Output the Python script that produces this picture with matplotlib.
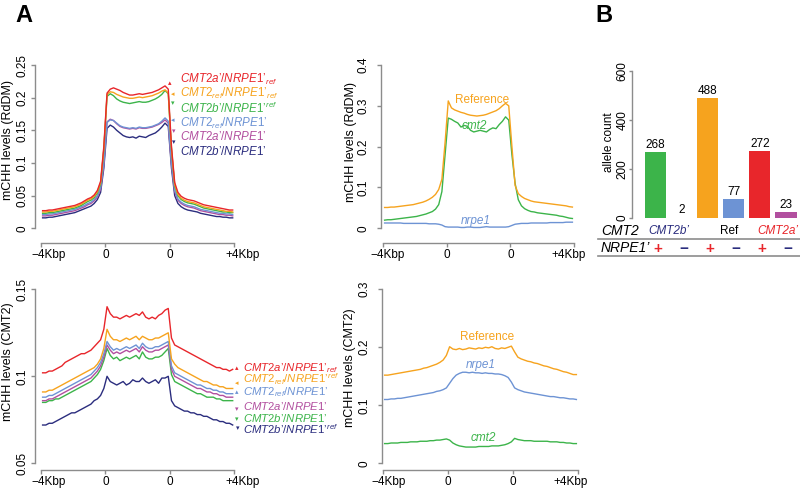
"""
Metaplots of mCHH at RdDM / CMT2 targets and allele counts (panel A + B).
"""
import matplotlib.pyplot as plt
import numpy as np
from matplotlib.lines import Line2D
from matplotlib.transforms import ScaledTranslation

W, H = 800, 488
AXIS_GREY = "#8c8c8c"

RED = "#e8262b"
ORANGE = "#f6a31e"
GREEN = "#3cb44a"
LBLUE = "#6d93d4"
PURPLE = "#b24f9f"
NAVY = "#2b2d7e"

plt.rcParams["font.family"] = ["Liberation Sans", "DejaVu Sans"]
plt.rcParams["mathtext.fontset"] = "custom"
plt.rcParams["mathtext.it"] = "Liberation Sans:italic"
plt.rcParams["mathtext.rm"] = "Liberation Sans"

# ---------------------------------------------------------------- data
# each profile: 20 bins upstream, 20 bins body, 20 bins downstream
BINS_PER_SEGMENT = 20
XTICK_LABELS = ["\u22124Kbp", "0", "0", "+4Kbp"]

RDDM_CMT2A_NRPE1REF = [
    .027, .027, .028, .028, .029, .030, .031, .032, .033, .034, .035, .037, .039, .042, .045, .047, .051, .058, .072, .125,
    .207, .213, .215, .213, .211, .208, .206, .204, .204, .205, .206, .205, .206, .207, .208, .210, .212, .215, .218, .213,
    .125, .070, .055, .049, .046, .044, .043, .042, .040, .038, .036, .035, .034, .033, .032, .031, .030, .029, .028, .028]
RDDM_CMT2REF_NRPE1REF = [
    .025, .025, .026, .026, .027, .028, .029, .030, .031, .032, .033, .035, .037, .040, .043, .045, .049, .056, .070, .122,
    .205, .209, .208, .205, .203, .201, .200, .199, .199, .200, .201, .200, .201, .202, .203, .205, .207, .210, .212, .207,
    .122, .067, .052, .046, .043, .041, .040, .039, .037, .035, .033, .032, .031, .030, .029, .028, .027, .026, .026, .025]
RDDM_CMT2B_NRPE1REF = [
    .023, .023, .024, .024, .025, .026, .027, .028, .029, .030, .031, .033, .035, .038, .041, .043, .047, .054, .068, .120,
    .202, .206, .203, .198, .195, .193, .192, .191, .192, .193, .194, .193, .193, .194, .196, .198, .201, .205, .211, .206,
    .120, .065, .050, .044, .041, .039, .038, .037, .035, .033, .031, .030, .029, .028, .027, .026, .025, .025, .024, .024]
RDDM_CMT2REF_NRPE1 = [
    .021, .021, .022, .022, .023, .024, .025, .026, .027, .028, .029, .031, .033, .035, .038, .040, .044, .050, .062, .100,
    .162, .166, .165, .161, .157, .155, .154, .153, .154, .153, .155, .154, .154, .155, .156, .158, .160, .164, .169, .164,
    .100, .058, .045, .040, .037, .035, .034, .033, .031, .029, .028, .027, .026, .025, .024, .023, .023, .022, .022, .021]
RDDM_CMT2A_NRPE1 = [
    .019, .019, .020, .020, .021, .022, .023, .024, .025, .026, .027, .029, .031, .033, .036, .038, .042, .048, .060, .098,
    .163, .167, .165, .160, .156, .154, .153, .152, .153, .152, .154, .153, .153, .154, .155, .157, .159, .162, .166, .161,
    .098, .056, .043, .038, .035, .033, .032, .031, .029, .027, .026, .025, .024, .023, .022, .021, .021, .020, .020, .019]
RDDM_CMT2B_NRPE1 = [
    .016, .016, .017, .017, .018, .019, .020, .021, .022, .023, .024, .026, .028, .030, .032, .034, .038, .044, .055, .092,
    .153, .158, .155, .150, .146, .142, .140, .139, .140, .138, .141, .140, .139, .142, .144, .146, .150, .155, .161, .156,
    .092, .050, .038, .033, .030, .028, .027, .026, .025, .023, .022, .021, .020, .019, .018, .018, .017, .017, .016, .016]

CMT2_CMT2A_NRPE1REF = [
    .102, .102, .103, .103, .104, .105, .106, .108, .109, .110, .111, .112, .113, .113, .114, .115, .117, .119, .121, .127,
    .140, .136, .134, .134, .133, .134, .135, .134, .135, .136, .135, .137, .134, .133, .134, .133, .135, .136, .138, .139,
    .122, .118, .117, .116, .115, .114, .113, .112, .111, .110, .109, .108, .107, .106, .105, .105, .104, .104, .103, .104]
CMT2_CMT2REF_NRPE1REF = [
    .091, .091, .092, .092, .093, .094, .095, .096, .097, .098, .099, .100, .101, .102, .103, .104, .105, .107, .110, .116,
    .127, .123, .121, .121, .120, .121, .122, .121, .122, .123, .121, .123, .122, .121, .121, .122, .122, .123, .124, .125,
    .110, .107, .105, .104, .103, .102, .101, .100, .099, .098, .097, .097, .096, .095, .095, .094, .094, .093, .093, .093]
CMT2_CMT2REF_NRPE1 = [
    .088, .088, .089, .089, .090, .091, .092, .093, .094, .095, .096, .097, .098, .099, .100, .101, .103, .105, .108, .113,
    .120, .117, .115, .116, .115, .116, .117, .116, .117, .118, .116, .119, .117, .116, .116, .117, .117, .118, .119, .120,
    .106, .102, .101, .100, .099, .098, .097, .096, .095, .095, .094, .093, .093, .092, .092, .091, .091, .090, .090, .090]
CMT2_CMT2A_NRPE1 = [
    .086, .086, .087, .087, .088, .089, .090, .091, .092, .093, .094, .095, .096, .097, .098, .099, .101, .103, .106, .111,
    .118, .115, .113, .114, .113, .114, .115, .114, .115, .116, .114, .117, .115, .114, .114, .115, .115, .116, .117, .118,
    .104, .100, .099, .098, .097, .096, .095, .094, .093, .093, .092, .091, .091, .090, .090, .089, .089, .088, .088, .088]
CMT2_CMT2B_NRPE1REF = [
    .085, .085, .086, .086, .087, .087, .088, .089, .090, .091, .092, .093, .094, .095, .096, .097, .099, .101, .104, .109,
    .116, .112, .110, .111, .109, .110, .111, .110, .111, .112, .110, .114, .111, .110, .110, .111, .111, .112, .114, .116,
    .101, .097, .096, .095, .094, .093, .092, .091, .090, .090, .089, .088, .088, .088, .087, .087, .086, .086, .086, .086]
CMT2_CMT2B_NRPE1 = [
    .072, .072, .073, .073, .074, .075, .076, .077, .078, .079, .079, .080, .081, .082, .083, .084, .086, .087, .089, .093,
    .100, .097, .096, .095, .096, .097, .095, .096, .098, .097, .097, .099, .097, .096, .097, .098, .096, .099, .099, .100,
    .086, .083, .082, .081, .080, .080, .079, .079, .078, .078, .077, .077, .076, .075, .075, .074, .074, .073, .073, .072]

RDDM_REFERENCE = [
    .051, .051, .052, .052, .053, .054, .055, .056, .057, .058, .060, .062, .064, .067, .071, .076, .083, .095, .120, .210,
    .312, .295, .290, .287, .284, .282, .279, .277, .276, .275, .276, .277, .279, .282, .285, .288, .293, .300, .306, .300,
    .200, .105, .085, .078, .073, .070, .067, .065, .064, .063, .062, .061, .060, .059, .058, .057, .056, .055, .053, .052]
RDDM_CMT2 = [
    .020, .021, .021, .022, .023, .024, .025, .026, .027, .028, .029, .031, .033, .035, .038, .041, .047, .058, .090, .180,
    .270, .267, .262, .258, .248, .252, .250, .240, .236, .238, .240, .238, .236, .242, .246, .244, .254, .262, .273, .265,
    .180, .110, .070, .055, .048, .044, .041, .040, .038, .037, .036, .035, .034, .033, .032, .030, .029, .027, .025, .024]
RDDM_NRPE1 = [
    .013, .013, .013, .013, .013, .013, .012, .012, .012, .012, .012, .012, .012, .012, .011, .011, .011, .010, .008, .004,
    .003, .003, .003, .003, .002, .002, .003, .003, .002, .002, .002, .003, .004, .003, .003, .003, .003, .003, .003, .004,
    .007, .010, .011, .012, .012, .012, .013, .013, .013, .013, .013, .013, .014, .014, .014, .014, .014, .015, .015, .015]

CMT2T_REFERENCE = [
    .152, .152, .153, .154, .155, .156, .157, .158, .159, .160, .161, .162, .164, .165, .167, .169, .171, .174, .178, .186,
    .201, .197, .196, .198, .196, .197, .199, .198, .197, .199, .198, .200, .199, .201, .198, .197, .199, .198, .200, .202,
    .192, .183, .180, .178, .176, .175, .173, .172, .170, .168, .167, .165, .163, .162, .160, .158, .157, .155, .153, .153]
CMT2T_NRPE1 = [
    .110, .110, .111, .111, .112, .112, .113, .114, .115, .116, .117, .118, .119, .120, .121, .122, .124, .125, .127, .130,
    .138, .146, .152, .155, .157, .157, .156, .157, .156, .156, .155, .156, .155, .155, .154, .154, .153, .151, .148, .140,
    .130, .127, .125, .123, .122, .121, .120, .119, .118, .117, .116, .115, .115, .114, .113, .113, .112, .111, .111, .110]
CMT2T_CMT2 = [
    .034, .034, .035, .035, .035, .036, .036, .036, .037, .037, .037, .038, .038, .038, .039, .039, .040, .040, .041, .042,
    .040, .035, .032, .030, .029, .028, .028, .028, .028, .029, .029, .029, .029, .030, .030, .030, .031, .032, .034, .037,
    .043, .041, .040, .039, .039, .039, .038, .038, .038, .038, .038, .037, .037, .037, .036, .036, .035, .035, .034, .034]

ALLELE_COUNTS = [268, 2, 488, 77, 272, 23]
ALLELE_COLORS = [GREEN, NAVY, ORANGE, LBLUE, RED, PURPLE]
CMT2_GROUPS = ["CMT2b’", "Ref", "CMT2a’"]
NRPE1_SIGNS = ["+", "\u2212", "+", "\u2212", "+", "\u2212"]

LBL_A_REF = r"$\mathit{CMT2a’/NRPE1’}_{\mathit{ref}}$"
LBL_REF_REF = r"$\mathit{CMT2}_{\mathit{ref}}\mathit{/NRPE1’}_{\mathit{ref}}$"
LBL_REF_REF_UP = r"$\mathit{CMT2}_{\mathit{ref}}\mathit{/NRPE1’}^{\mathit{ref}}$"
LBL_B_REF_UP = r"$\mathit{CMT2b’/NRPE1’}^{\mathit{ref}}$"
LBL_REF_NR = r"$\mathit{CMT2}_{\mathit{ref}}\mathit{/NRPE1’}$"
LBL_A_NR = r"$\mathit{CMT2a’/NRPE1’}$"
LBL_B_NR = r"$\mathit{CMT2b’/NRPE1’}$"


def fx(x):
    return x / W


def fy(y):
    return 1 - y / H


def pixel_axes(fig, box, xmap, ymap):
    left, top, right, bottom = box
    (x0, px0), (x1, px1) = xmap
    (y0, py0), (y1, py1) = ymap
    sx = (px1 - px0) / (x1 - x0)
    sy = (py0 - py1) / (y1 - y0)
    ax = fig.add_axes([fx(left), fy(bottom), (right - left) / W, (bottom - top) / H])
    ax.set_xlim(x0 - (px0 - left) / sx, x1 + (right - px1) / sx)
    ax.set_ylim(y0 - (bottom - py0) / sy, y1 + (py1 - top) / sy)
    return ax


def style_axis(ax, yticks, ytick_labels, ypad):
    for side in ("top", "right"):
        ax.spines[side].set_visible(False)
    for side in ("left", "bottom"):
        ax.spines[side].set_color(AXIS_GREY)
        ax.spines[side].set_linewidth(1.0)
    ax.spines["left"].set_bounds(yticks[0], yticks[-1])
    ax.set_yticks(yticks, ytick_labels, rotation=90, va="center")
    ax.tick_params(colors=AXIS_GREY, labelcolor="black", labelsize=8.5, length=3, width=1.0)
    ax.tick_params(axis="y", pad=ypad)


def style_profile(ax, yticks, ytick_labels, ypad, label_shift):
    style_axis(ax, yticks, ytick_labels, ypad)
    ax.spines["bottom"].set_bounds(0, 3)
    ax.set_xticks([0, 1, 2, 3], XTICK_LABELS)
    ax.tick_params(axis="x", pad=1)
    for lab, dx in zip(ax.get_xticklabels(), label_shift):
        lab.set_transform(lab.get_transform()
                          + ScaledTranslation(dx / 100, 0, ax.figure.dpi_scale_trans))


def main() -> None:
    fig = plt.figure(figsize=(W / 100, H / 100), dpi=100)
    x = (np.arange(3 * BINS_PER_SEGMENT) + 0.5) / BINS_PER_SEGMENT

    # ---- A, top left: RdDM targets, six genotypes
    ax = pixel_axes(fig, (35, 58, 240, 243), ((0, 41), (3, 234.3)), ((0, 228.3), (0.25, 65)))
    tl_series = [
        (RDDM_CMT2A_NRPE1REF, RED), (RDDM_CMT2REF_NRPE1REF, ORANGE), (RDDM_CMT2B_NRPE1REF, GREEN),
        (RDDM_CMT2REF_NRPE1, LBLUE), (RDDM_CMT2A_NRPE1, PURPLE), (RDDM_CMT2B_NRPE1, NAVY)]
    for values, color in reversed(tl_series):
        ax.plot(x, values, color=color, lw=1.0)
    style_profile(ax, [0, 0.05, 0.1, 0.15, 0.2, 0.25], ["0", "0.05", "0.1", "0.15", "0.2", "0.25"],
                  2, [8, 0, 0, 8])
    fig.text(fx(8), fy(140), "mCHH levels (RdDM)", rotation=90, ha="center", va="center", fontsize=9)
    tl_labels = [
        (LBL_A_REF, RED, 83, "\u25b4", 170, 84), (LBL_REF_REF, ORANGE, 96.5, "\u25c2", 173, 95),
        (LBL_B_REF_UP, GREEN, 113, "\u25be", 173, 104), (LBL_REF_NR, LBLUE, 127, "\u25c2", 173, 121),
        (LBL_A_NR, PURPLE, 140, "\u25be", 174, 132), (LBL_B_NR, NAVY, 155, "\u25be", 174, 143)]
    for text, color, base, glyph, mx, my in tl_labels:
        fig.text(fx(180), fy(base), text, color=color, fontsize=8.4, va="baseline")
        fig.text(fx(mx), fy(my), glyph, color=color, fontsize=5, ha="center", va="center")

    # ---- A, bottom left: CMT2 targets, six genotypes
    ax = pixel_axes(fig, (35, 283, 240, 470), ((0, 41), (3, 234.3)), ((0.05, 463.3), (0.15, 289.3)))
    bl_series = [
        (CMT2_CMT2A_NRPE1REF, RED), (CMT2_CMT2REF_NRPE1REF, ORANGE), (CMT2_CMT2REF_NRPE1, LBLUE),
        (CMT2_CMT2A_NRPE1, PURPLE), (CMT2_CMT2B_NRPE1REF, GREEN), (CMT2_CMT2B_NRPE1, NAVY)]
    for values, color in reversed(bl_series):
        ax.plot(x, values, color=color, lw=1.0)
    style_profile(ax, [0.05, 0.1, 0.15], ["0.05", "0.1", "0.15"], 2, [8, 0, 0, 8])
    fig.text(fx(8), fy(362), "mCHH levels (CMT2)", rotation=90, ha="center", va="center", fontsize=9)
    bl_labels = [
        (LBL_A_REF, RED, 371, "\u25b4", 237, 369), (LBL_REF_REF_UP, ORANGE, 383.5, "\u25c2", 237, 384),
        (LBL_REF_NR, LBLUE, 395.5, "\u25b4", 237, 393), (LBL_A_NR, PURPLE, 410, "\u25be", 237, 410),
        (LBL_B_NR, GREEN, 422, "\u25be", 237, 420), (LBL_B_REF_UP, NAVY, 433.5, "\u25be", 238, 429)]
    for text, color, base, glyph, mx, my in bl_labels:
        fig.text(fx(243), fy(base), text, color=color, fontsize=8.2, va="baseline")
        fig.text(fx(mx), fy(my), glyph, color=color, fontsize=5, ha="center", va="center")

    # ---- A, top right: RdDM targets, single mutants
    ax = pixel_axes(fig, (381, 58, 585, 243), ((0, 383), (3, 574)), ((0, 228.3), (0.4, 65)))
    ax.plot(x, RDDM_NRPE1, color=LBLUE, lw=1.0)
    ax.plot(x, RDDM_CMT2, color=GREEN, lw=1.0)
    ax.plot(x, RDDM_REFERENCE, color=ORANGE, lw=1.0)
    style_profile(ax, [0, 0.1, 0.2, 0.3, 0.4], ["0", "0.1", "0.2", "0.3", "0.4"], 5.5, [5, 0, 0, -5])
    fig.text(fx(351), fy(142), "mCHH levels (RdDM)", rotation=90, ha="center", va="center", fontsize=9)
    fig.text(fx(482), fy(100), "Reference", color=ORANGE, fontsize=8.5, ha="center", va="center")
    fig.text(fx(474), fy(126), "cmt2", color=GREEN, fontsize=8.5, style="italic", ha="center", va="center")
    fig.text(fx(476), fy(221), "nrpe1", color=LBLUE, fontsize=8.5, style="italic", ha="center", va="center")

    # ---- A, bottom right: CMT2 targets, single mutants
    ax = pixel_axes(fig, (382, 283, 590, 470), ((0, 383), (3, 578)), ((0, 463.3), (0.3, 289.3)))
    ax.plot(x, CMT2T_CMT2, color=GREEN, lw=1.0)
    ax.plot(x, CMT2T_NRPE1, color=LBLUE, lw=1.0)
    ax.plot(x, CMT2T_REFERENCE, color=ORANGE, lw=1.0)
    style_profile(ax, [0, 0.1, 0.2, 0.3], ["0", "0.1", "0.2", "0.3"], 5.5, [6, 0, 0, -7])
    fig.text(fx(350), fy(368), "mCHH levels (CMT2)", rotation=90, ha="center", va="center", fontsize=9)
    fig.text(fx(487), fy(337), "Reference", color=ORANGE, fontsize=8.5, ha="center", va="center")
    fig.text(fx(481), fy(365), "nrpe1", color=LBLUE, fontsize=8.5, style="italic", ha="center", va="center")
    fig.text(fx(483), fy(438), "cmt2", color=GREEN, fontsize=8.5, style="italic", ha="center", va="center")

    # ---- B: allele counts
    ax = pixel_axes(fig, (632, 60, 800, 222), ((0, 655.5), (5, 786)), ((0, 218), (600, 71)))
    pos = np.arange(len(ALLELE_COUNTS))
    ax.bar(pos, ALLELE_COUNTS, width=0.81, color=ALLELE_COLORS)
    for i, v in zip(pos, ALLELE_COUNTS):
        ax.annotate(str(v), (i, v), xytext=(0, 1), textcoords="offset points",
                    ha="center", va="bottom", fontsize=8.5)
    style_axis(ax, [0, 200, 400, 600], ["0", "200", "400", "600"], 0)
    ax.tick_params(axis="y", length=2.5)
    ax.spines["bottom"].set_visible(False)
    ax.set_xticks([])
    fig.text(fx(609), fy(142), "allele count", rotation=90, ha="center", va="center", fontsize=8.5)

    fig.text(fx(601), fy(231), "CMT2", style="italic", fontsize=10, va="center")
    group_x = [669, 729, 778]
    group_colors = [NAVY, "black", RED]
    group_style = ["italic", "normal", "italic"]
    for gx, name, color, st in zip(group_x, CMT2_GROUPS, group_colors, group_style):
        fig.text(fx(gx), fy(231), name, color=color, style=st, fontsize=8.5, ha="center", va="center")
    fig.text(fx(601), fy(248), "NRPE1’", style="italic", fontsize=10, va="center")
    bar_px = np.interp(pos, [0, 5], [655.5, 786])
    for bx, sign in zip(bar_px, NRPE1_SIGNS):
        color = RED if sign == "+" else NAVY
        fig.text(fx(bx + 2), fy(249), sign, color=color, fontsize=11, fontweight="bold",
                 ha="center", va="center")
    for ly in (239, 256):
        fig.add_artist(Line2D([fx(598), fx(800)], [fy(ly), fy(ly)], color=AXIS_GREY, lw=1.2))

    fig.text(fx(15), fy(22), "A", fontsize=17, fontweight="bold", va="baseline")
    fig.text(fx(595), fy(22), "B", fontsize=17, fontweight="bold", va="baseline")

    fig.savefig("out.png", dpi=100, facecolor="white")
    plt.close(fig)


if __name__ == "__main__":
    main()
